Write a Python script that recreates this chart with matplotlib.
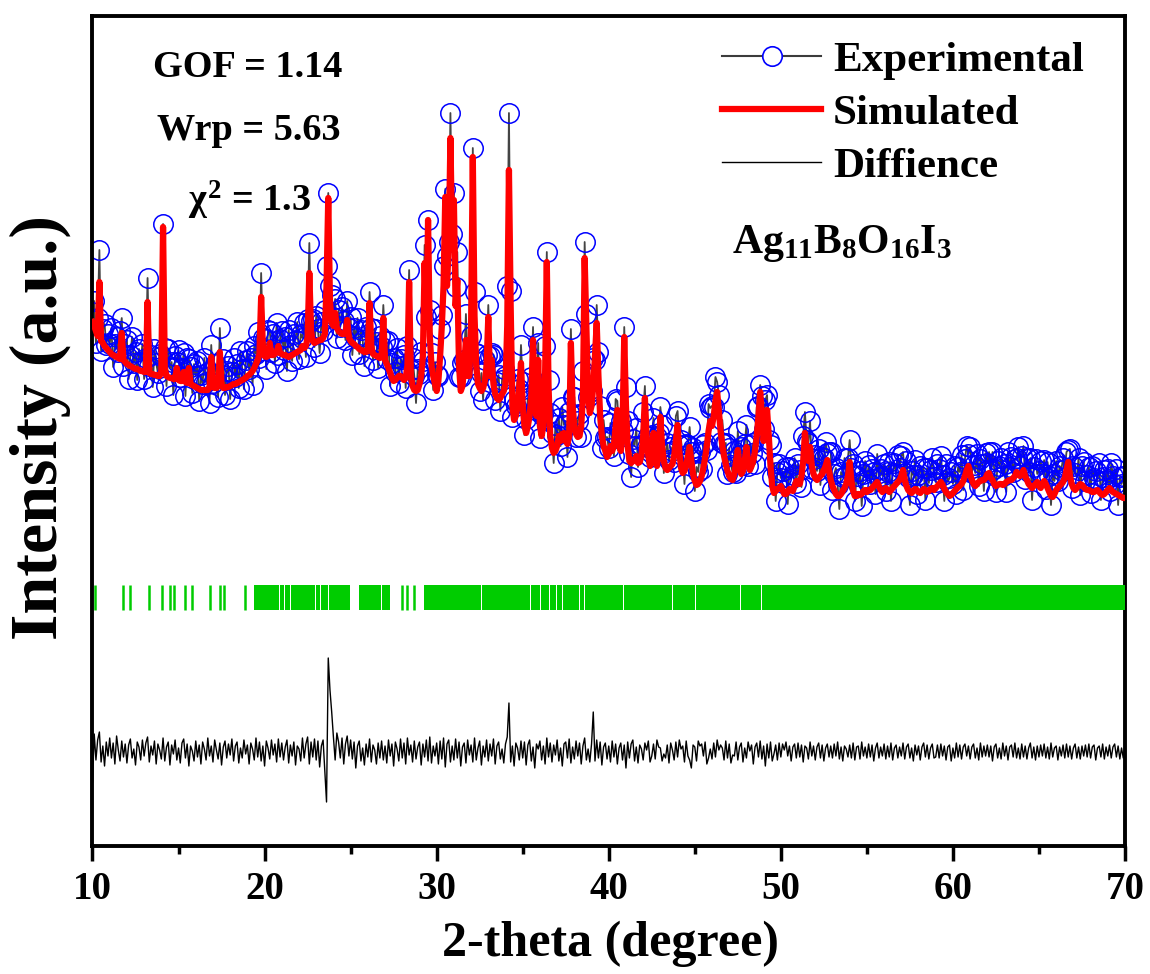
import numpy as np
import matplotlib
matplotlib.use('Agg')
import matplotlib.pyplot as plt
from matplotlib.lines import Line2D

# ---------------- data ----------------
two_theta = np.round(np.linspace(10.0, 70.0, 601), 1)   # 0.1 deg steps

calc_intensity = [
    524, 520, 515, 510, 564, 505, 503, 500, 498, 496,
    494, 492, 491, 490, 489, 488, 487, 513, 486, 484,
    482, 481, 480, 479, 478, 477, 477, 476, 475, 475,
    474, 474, 544, 473, 472, 472, 471, 471, 470, 470,
    475, 619, 478, 470, 469, 468, 468, 467, 467, 478,
    466, 465, 465, 474, 464, 463, 478, 462, 461, 460,
    459, 458, 457, 456, 456, 456, 456, 456, 458, 489,
    460, 458, 458, 460, 494, 462, 458, 458, 459, 459,
    460, 461, 462, 462, 463, 464, 465, 466, 467, 468,
    470, 471, 473, 475, 478, 482, 486, 492, 549, 500,
    490, 489, 490, 503, 491, 491, 492, 494, 500, 493,
    492, 491, 491, 490, 489, 490, 491, 492, 493, 494,
    495, 496, 500, 498, 500, 508, 573, 515, 505, 503,
    504, 505, 506, 506, 508, 512, 560, 648, 545, 523,
    520, 533, 518, 515, 513, 512, 512, 513, 526, 508,
    505, 503, 502, 500, 499, 497, 496, 495, 494, 494,
    495, 543, 500, 492, 491, 490, 489, 488, 490, 528,
    486, 482, 478, 473, 468, 465, 466, 468, 470, 470,
    468, 466, 468, 480, 564, 470, 460, 456, 455, 456,
    462, 470, 490, 583, 520, 626, 510, 480, 470, 462,
    455, 465, 490, 520, 560, 649, 560, 600, 708, 600,
    646, 540, 566, 480, 455, 460, 480, 506, 470, 470,
    520, 689, 530, 480, 462, 458, 455, 458, 465, 480,
    529, 470, 486, 462, 452, 448, 446, 448, 452, 455,
    462, 520, 676, 540, 440, 426, 430, 440, 460, 483,
    440, 420, 413, 420, 430, 450, 506, 440, 430, 486,
    420, 410, 420, 470, 584, 460, 410, 398, 393, 395,
    400, 410, 405, 412, 413, 405, 402, 410, 503, 440,
    420, 412, 409, 410, 420, 450, 588, 520, 450, 433,
    440, 460, 490, 523, 470, 430, 410, 400, 395, 389,
    392, 400, 395, 400, 420, 436, 400, 395, 420, 509,
    440, 400, 385, 383, 385, 386, 390, 383, 384, 390,
    410, 448, 410, 390, 380, 385, 413, 395, 380, 395,
    429, 400, 385, 378, 376, 378, 380, 382, 390, 405,
    421, 395, 378, 373, 375, 380, 390, 399, 385, 372,
    365, 361, 362, 365, 370, 378, 388, 400, 415, 425,
    420, 430, 445, 454, 435, 415, 400, 390, 382, 375,
    370, 367, 366, 372, 385, 396, 380, 372, 375, 385,
    399, 385, 376, 380, 385, 395, 410, 430, 454, 430,
    405, 420, 436, 410, 380, 360, 353, 355, 357, 358,
    360, 356, 352, 352, 354, 357, 356, 355, 360, 365,
    362, 362, 370, 385, 413, 395, 385, 399, 380, 372,
    368, 366, 368, 370, 372, 376, 380, 386, 375, 366,
    360, 356, 352, 350, 350, 352, 355, 358, 362, 370,
    384, 365, 355, 350, 350, 352, 351, 352, 355, 356,
    354, 356, 356, 358, 360, 362, 364, 360, 356, 354,
    356, 358, 356, 354, 356, 358, 360, 362, 364, 366,
    370, 376, 366, 360, 356, 354, 353, 355, 357, 356,
    354, 353, 355, 357, 356, 354, 355, 357, 358, 356,
    358, 360, 362, 364, 361, 357, 354, 352, 350, 351,
    353, 355, 357, 359, 360, 362, 365, 370, 376, 380,
    372, 366, 362, 360, 362, 364, 365, 366, 366, 368,
    372, 373, 368, 366, 362, 360, 361, 362, 362, 361,
    362, 364, 365, 366, 366, 368, 370, 374, 372, 370,
    372, 376, 370, 366, 362, 360, 358, 360, 362, 364,
    360, 358, 362, 365, 362, 358, 354, 350, 349, 352,
    356, 358, 360, 362, 364, 368, 376, 384, 370, 362,
    358, 356, 358, 360, 362, 361, 359, 357, 356, 356,
    355, 354, 354, 355, 356, 354, 352, 351, 352, 354,
    356, 358, 356, 354, 353, 352, 351, 350, 349, 348,
    348,
]

obs_minus_calc = [
    10, 25, -12, 18, 32, -10, 14, 22, 3, 16,
    8, 26, -12, 12, 20, 6, 28, 15, -6, 18,
    24, -14, 11, 30, 5, 17, -11, 21, 9, 27,
    -7, 14, 24, 7, 19, -13, 26, 12, 3, 22,
    15, 3, 20, -10, 28, 10, 16, -16, 23, 6,
    30, 4, 13, 19, -14, 25, 9, 17, -8, 22,
    11, 27, -12, 15, 6, 32, 8, 18, -15, 12,
    3, 24, 14, -11, 24, 9, 29, -7, 16, 21,
    -13, 13, 26, 7, 19, -6, 30, 11, -10, 18,
    25, 6, 15, -14, 22, 10, 28, -4, 24, 8,
    17, -12, 26, 12, 3, 21, -9, 29, -9, 14,
    23, 5, 18, -15, 27, 11, -6, 20, 13, 30,
    -8, 16, 8, 25, -11, 19, 30, 10, 22, -4,
    26, 12, -13, 18, 7, 24, 20, 5, 15, 28,
    9, 14, -10, 21, 6, 27, 13, -7, 19, 10,
    24, -12, 16, 8, 29, -5, 20, 11, -14, 25,
    7, 11, 18, -6, 26, 14, -11, 22, 9, 13,
    19, 5, 27, -13, 15, 23, 8, 30, -7, 17,
    12, 25, -10, 20, 12, 6, 28, 14, -12, 21,
    10, 24, -5, 18, 9, 0, 26, 13, -14, 22,
    16, 5, 27, 11, 20, 8, 30, 4, 25, 12,
    7, 19, 28, -11, 14, 23, 6, 26, 10, 17,
    -10, 9, 24, 13, 30, -3, 18, -12, 21, 11,
    12, 20, 7, 29, -6, 16, 25, -13, 14, 22,
    8, 40, 57, 15, -11, 20, 10, 27, -3, 18,
    24, -9, 14, 28, 9, 19, 13, -4, 25, 17,
    -12, 21, 12, 30, 10, 6, 23, 15, -10, 26,
    11, 18, -5, 27, 8, 20, -13, 24, 14, 9,
    29, -3, 16, 22, -11, 25, 16, 12, -1, 21,
    15, 28, -4, 18, 24, 10, -12, 26, 13, 20,
    6, 23, 12, -10, 27, 9, 17, 30, -5, 10,
    19, 25, 7, -14, 22, 14, 28, -4, 16, 11,
    24, 12, -11, 20, 9, 26, 15, -3, 29, 18,
    10, 21, -12, 16, 27, 8, 19, 13, -6, 25,
    14, 6, 28, 17, -13, 22, 11, 20, 9, 26,
    -10, 18, 12, 29, 7, 23, 15, -4, 27, 13,
    20, 9, 24, 10, 16, -11, 26, 12, 21, -3,
    28, 14, 8, 23, -12, 19, 11, 27, 6, 17,
    22, -5, 25, 13, 18, -13, 29, 10, 7, 20,
    12, 26, 15, -4, 21, 9, 30, -10, 17, 24,
    8, 19, 13, 27, -12, 22, 11, 16, 28, -2,
    20, 14, -11, 25, 21, 10, 18, 26, -3, 15,
    23, 9, 29, -9, 17, 12, 24, 7, 19, 28,
    -4, 16, 26, 11, -13, 22, 14, 30, 8, 18,
    22, 13, 27, -5, 20, 10, 24, -12, 17, 29,
    11, 25, 6, 19, 14, -10, 28, 9, 21, 16,
    26, -3, 18, 30, -11, 15, 23, 10, 27, 12,
    20, 18, 7, 25, 13, -13, 22, 16, 29, -4,
    17, 27, 11, 21, -10, 24, 8, 19, 30, 13,
    6, 22, 15, 26, 10, -12, 28, 12, 18, 23,
    9, 25, -5, 20, 14, 29, -9, 17, 24, 12,
    27, 8, 19, 13, 30, -4, 22, 16, -11, 25,
    11, 21, 7, 28, 15, -6, 24, 18, 26, 9,
    20, -10, 29, 13, 23, 6, 17, 14, 27, 10,
    18, 24, -3, 22, 12, 28, -12, 19, 25, 8,
    15, 27, 10, 21, -5, 26, 16, -9, 23, 13,
    29, 7, 20, 14, 24, 9, 18, 12, 27, -4,
    22, 17, 11, 28, -11, 19, 25, 8, 15, 23,
    -2, 26, 14, 20, 10, 29, -6, 18, 24, 12,
    21, -3, 27, 16, 9, 25, -10, 19, 13, 22,
    8,
]

difference = [
    -30, 18, -8, 12, 20, -10, 6, -14, 10, -4,
    14, -6, 9, -12, 16, 2, -9, 11, -5, 8,
    -11, 7, 13, -6, 3, -13, 10, 5, -8, 12,
    -4, 9, 15, -10, 6, -3, 11, -12, 8, 2,
    -7, 14, -9, 5, 10, -13, 7, -2, 12, -8,
    4, -11, 9, 13, -6, 8, -14, 6, 1, -9,
    11, -5, 7, -12, 10, 3, -8, 14, -4, 6,
    -10, 12, 2, -7, 9, -13, 5, 11, -6, 8,
    -3, 13, -9, 6, 10, -11, 4, -6, 12, -2,
    7, -12, 9, 3, -8, 14, -5, 10, -9, 6,
    -14, 11, 4, -7, 12, -3, 8, -10, 13, -5,
    9, -8, 5, 12, -11, 7, -4, 10, -13, 6,
    3, -9, 14, -6, 8, 15, -12, 10, -5, 13,
    -8, 11, -15, 6, 12, -20, -50, 94, 62, 40,
    15, -8, 19, 10, -6, 14, -12, 8, 16, -4,
    12, -7, 10, -16, 6, 11, -9, 4, -13, 8,
    -5, 13, -10, 7, 2, -12, 9, -6, 11, -8,
    6, -11, 12, -4, 8, -14, 10, 3, -9, 13,
    -6, 9, -12, 14, -3, 7, -10, 11, -7, 5,
    10, -13, 8, -5, 12, -9, 15, -11, 6, -4,
    9, -12, 11, -7, 14, -15, 8, 12, -10, 6,
    -8, 13, -6, 10, -14, 5, 9, -11, 12, -3,
    7, -10, 14, -8, 4, 11, -13, 6, -5, 12,
    -9, 8, -4, 13, -12, 6, 10, -7, 3, -11,
    8, 15, 49, -10, 6, -14, 9, 4, -8, 11,
    -6, 10, -13, 7, 12, -9, 5, -16, 8, 3,
    11, -8, 6, -12, 14, -5, 9, -10, 7, -3,
    12, -9, 4, -14, 8, 10, -6, 13, -11, 5,
    -7, 11, -4, 9, -12, 6, 14, -8, 3, -10,
    8, 40, -9, 12, -6, 10, -13, 5, 9, -7,
    6, -10, 11, -5, 8, -12, 4, 9, -8, 7,
    -16, 10, -6, 8, 12, -9, 5, -11, 7, 3,
    -8, 9, 2, 11, -10, -4, 8, -7, 12, 5,
    4, -9, -2, -6, 7, -11, 9, 2, -8, 10,
    -5, 12, 3, 6, -10, 11, -4, -8, -16, 7,
    5, -9, 11, 6, 8, -4, 10, -12, -6, 3,
    -7, 9, -5, 12, 2, 7, 4, -8, 11, -6,
    8, -11, -3, -4, 10, -8, 5, 9, -10, 4,
    -6, 10, 1, 7, -12, 5, 9, -5, 11, -7,
    6, -14, 8, -6, 10, -9, -2, 7, -8, 9,
    -5, 8, 2, 10, -4, 6, -9, 5, 8, -6,
    9, -5, 7, -10, 6, 4, -7, 10, -4, 6,
    -8, 5, 9, -6, 7, -9, 4, 8, -5, 6,
    -6, 8, -4, 10, -7, 5, -9, 6, 3, -5,
    7, -6, 9, -8, 5, 6, -7, 10, -4, 5,
    -6, 8, -5, 7, -9, 4, 9, -6, 5, -4,
    8, -7, 6, -5, 9, -8, 4, 7, -6, 5,
    -4, 9, -7, 5, 8, -6, 4, -9, 7, -3,
    6, -8, 5, 9, -5, 7, -7, 4, 8, -6,
    -5, 7, -6, 8, -4, 6, -8, 5, 7, -9,
    4, -6, 9, -5, 7, -7, 5, 8, -4, 6,
    -7, 5, 8, -6, 4, -8, 9, -5, 6, -4,
    7, -5, 6, -9, 5, 8, -6, 4, -7, 9,
    -4, 6, -8, 5, 7, -5, 9, -6, 4, -7,
    8, -5, 6, -7, 4, 9, -6, 5, -8, 6,
    -5, 7, -4, 8, -6, 5, -7, 9, -5, 4,
    6, -8, 5, -4, 7, -6, 8, -5, 6, -7,
    4, 8, -6, 5, -7, 6, -4, 7, -5, 8,
    -6, 5, 7, -8, 4, 6, -5, 8, -7, 5,
    -4, 7, -6, 5, 8, -5, 6, -7, 4, -6,
    5,
]

# Bragg reflection positions: isolated marks and packed ranges
reflection_ticks = [
    10.16, 11.77, 12.19, 13.26, 14.03, 14.52, 14.71, 15.39, 15.78, 16.84,
    17.42, 17.66, 18.84, 27.99, 28.28, 28.66,
]
reflection_ranges = [
    (19.36, 19.49), (19.53, 19.83), (19.87, 20.12), (20.16, 20.41), (20.45, 20.85),
    (20.89, 21.13), (21.17, 21.47), (21.51, 22.15), (22.19, 22.93), (22.97, 23.22),
    (23.26, 23.70), (23.74, 24.19), (24.23, 24.48), (24.52, 24.77), (24.81, 24.98),
    (25.47, 25.88), (25.92, 26.28), (26.32, 26.78), (26.82, 27.31),
    (29.24, 30.3), (30.33, 31.4), (31.43, 32.6), (32.63, 33.5), (33.53, 35.4),
    (35.5, 36.0), (36.05, 36.55), (36.6, 36.95), (37.0, 37.27),
    (37.32, 38.3), (38.33, 38.57), (38.6, 39.35), (39.38, 40.82), (40.86, 43.67),
    (43.71, 45.02), (45.06, 46.38), (46.42, 47.64), (47.68, 48.84), (48.88, 70.0),
]

# ---------------- style ----------------
plt.rcParams['font.family'] = ['Liberation Serif', 'DejaVu Serif']
plt.rcParams['font.weight'] = 'bold'
plt.rcParams['mathtext.fontset'] = 'custom'
plt.rcParams['mathtext.rm'] = 'Liberation Serif:bold'
plt.rcParams['mathtext.it'] = 'Liberation Serif:bold'
plt.rcParams['mathtext.bf'] = 'Liberation Serif:bold'

W, H = 1150, 974
fig = plt.figure(figsize=(W / 100, H / 100), dpi=100)
ax = fig.add_axes([92.5 / W, 1 - 846 / H, (1125 - 92.5) / W, (846 - 16) / H])

calc = np.array(calc_intensity, dtype=float)
obs = calc + np.array(obs_minus_calc, dtype=float)
diff = np.array(difference, dtype=float)
DIFF_BASE = 94
TICK_LO, TICK_HI = 236, 261
GREEN = '#00CC00'

ax.plot(two_theta, obs, color='#444444', lw=1.3, zorder=1.5)
ax.plot(two_theta, obs, ls='none', marker='o', ms=14,
        mfc='none', mec='#0000FF', mew=1.1, zorder=2)
ax.plot(two_theta, calc, color='#FF0000', lw=4.5, zorder=3)
ax.plot(two_theta, DIFF_BASE + diff, color='black', lw=1.0, zorder=3)
ax.vlines(reflection_ticks, TICK_LO, TICK_HI, colors=GREEN, lw=1.8, zorder=3)
ax.broken_barh([(a, b - a) for a, b in reflection_ranges], (TICK_LO, TICK_HI - TICK_LO),
               facecolors=GREEN, edgecolor='none', zorder=3)

ax.set_xlim(10, 70)
ax.set_ylim(0, 830)
ax.set_yticks([])
ax.set_xticks([10, 20, 30, 40, 50, 60, 70])
ax.set_xticks([15, 25, 35, 45, 55, 65], minor=True)
ax.tick_params(axis='x', which='major', direction='out', length=11, width=2.5,
               labelsize=28, pad=7)
ax.tick_params(axis='x', which='minor', direction='out', length=6, width=2.5)
for s in ax.spines.values():
    s.set_linewidth(2.8)

# legend
handles = [
    Line2D([], [], color='#3c3c3c', lw=1.5, marker='o', ms=14, mfc='white',
           mec='#0000FF', mew=1.2),
    Line2D([], [], color='#FF0000', lw=4.5),
    Line2D([], [], color='black', lw=1.0),
]
ax.legend(handles, ['Experimental', 'Simulated', 'Diffience'],
          loc='upper left', bbox_to_anchor=(0.6097, 0.9705), frameon=False,
          fontsize=31, handlelength=2.3, handletextpad=0.28, labelspacing=0.33,
          borderpad=0, borderaxespad=0, numpoints=1)

fig.text(153 / W, 1 - 77 / H, 'GOF = 1.14', fontsize=27.5, fontweight='bold', va='baseline')
fig.text(157 / W, 1 - 140 / H, 'Wrp = 5.63', fontsize=27.5, fontweight='bold', va='baseline')
fig.text(188 / W, 1 - 212 / H, r'$\chi^{2}$ = 1.3', fontsize=27.5, fontweight='bold', va='baseline')
fig.text(732 / W, 1 - 253 / H, r'$\mathrm{Ag_{11}B_{8}O_{16}I_{3}}$', fontsize=30,
         fontweight='bold', va='baseline')

fig.text(611 / W, 1 - 944 / H, '2-theta (degree)', fontsize=36, fontweight='bold',
         ha='center', va='center')
fig.text(40 / W, 1 - 427 / H, 'Intensity (a.u.)', fontsize=49, fontweight='bold',
         ha='center', va='center', rotation=90)

fig.savefig('out.png', dpi=100)
